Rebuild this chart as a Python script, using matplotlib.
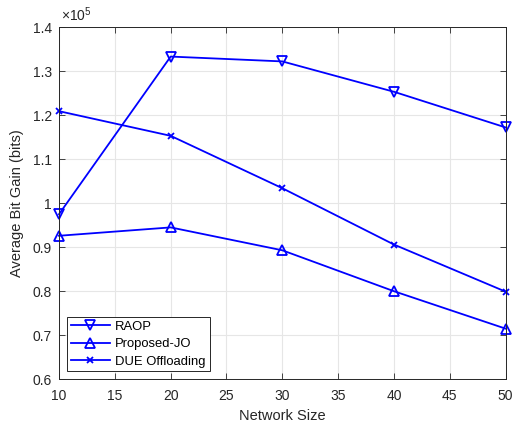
import matplotlib
matplotlib.use('Agg')
import matplotlib.pyplot as plt

plt.rcParams['font.family'] = ['Liberation Sans', 'DejaVu Sans']
plt.rcParams['mathtext.fontset'] = 'custom'
plt.rcParams['mathtext.rm'] = 'Liberation Sans'

network_size = [10, 20, 30, 40, 50]
# values in units of 1e5 bits
raop = [0.975, 1.333, 1.322, 1.253, 1.172]
proposed_jo = [0.926, 0.945, 0.893, 0.800, 0.715]
due_offloading = [1.209, 1.153, 1.034, 0.906, 0.799]

fig = plt.figure(figsize=(5.17, 4.23), dpi=100)
ax = fig.add_axes([0.1141, 0.1033, 0.864, 0.8327])

blue = (0, 0, 1)
ax.plot(network_size, raop, color=blue, lw=1.3, marker='v', ms=7,
        mfc='none', mew=1.3, label='RAOP', clip_on=False)
ax.plot(network_size, proposed_jo, color=blue, lw=1.3, marker='^', ms=7,
        mfc='none', mew=1.3, label='Proposed-JO', clip_on=False)
ax.plot(network_size, due_offloading, color=blue, lw=1.3, marker='x', ms=5,
        mew=1.3, label='DUE Offloading', clip_on=False)

ax.set_xlim(10, 50)
ax.set_ylim(0.6, 1.4)
ax.set_xticks(range(10, 51, 5))
ax.set_yticks([0.6, 0.7, 0.8, 0.9, 1.0, 1.1, 1.2, 1.3, 1.4])
ax.set_yticklabels(['0.6', '0.7', '0.8', '0.9', '1', '1.1', '1.2', '1.3', '1.4'])
ax.grid(True, color='#e6e6e6', lw=0.8)
ax.set_axisbelow(True)
ax.tick_params(direction='in', top=True, right=True, length=4,
               labelsize=10, colors='#262626', width=0.6)
ax.tick_params(axis='x', pad=7)
ax.tick_params(axis='y', pad=5)
for s in ax.spines.values():
    s.set_color('#262626')
    s.set_linewidth(0.7)

ax.set_xlabel('Network Size', fontsize=10.5, color='#262626', labelpad=4)
ax.set_ylabel('Average Bit Gain (bits)', fontsize=10.5, color='#262626', labelpad=6)
ax.text(0.005, 1.008, r'$\times\mathregular{10^5}$', transform=ax.transAxes,
        fontsize=10, color='#262626', va='bottom', ha='left')

leg = ax.legend(loc='lower left', fontsize=9.4, fancybox=False,
                edgecolor='#262626', framealpha=1, handlelength=3.0,
                handletextpad=0.4, borderaxespad=0.6, labelspacing=0.4,
                borderpad=0.3)
leg.get_frame().set_linewidth(0.7)

fig.savefig('out.png', dpi=100)
